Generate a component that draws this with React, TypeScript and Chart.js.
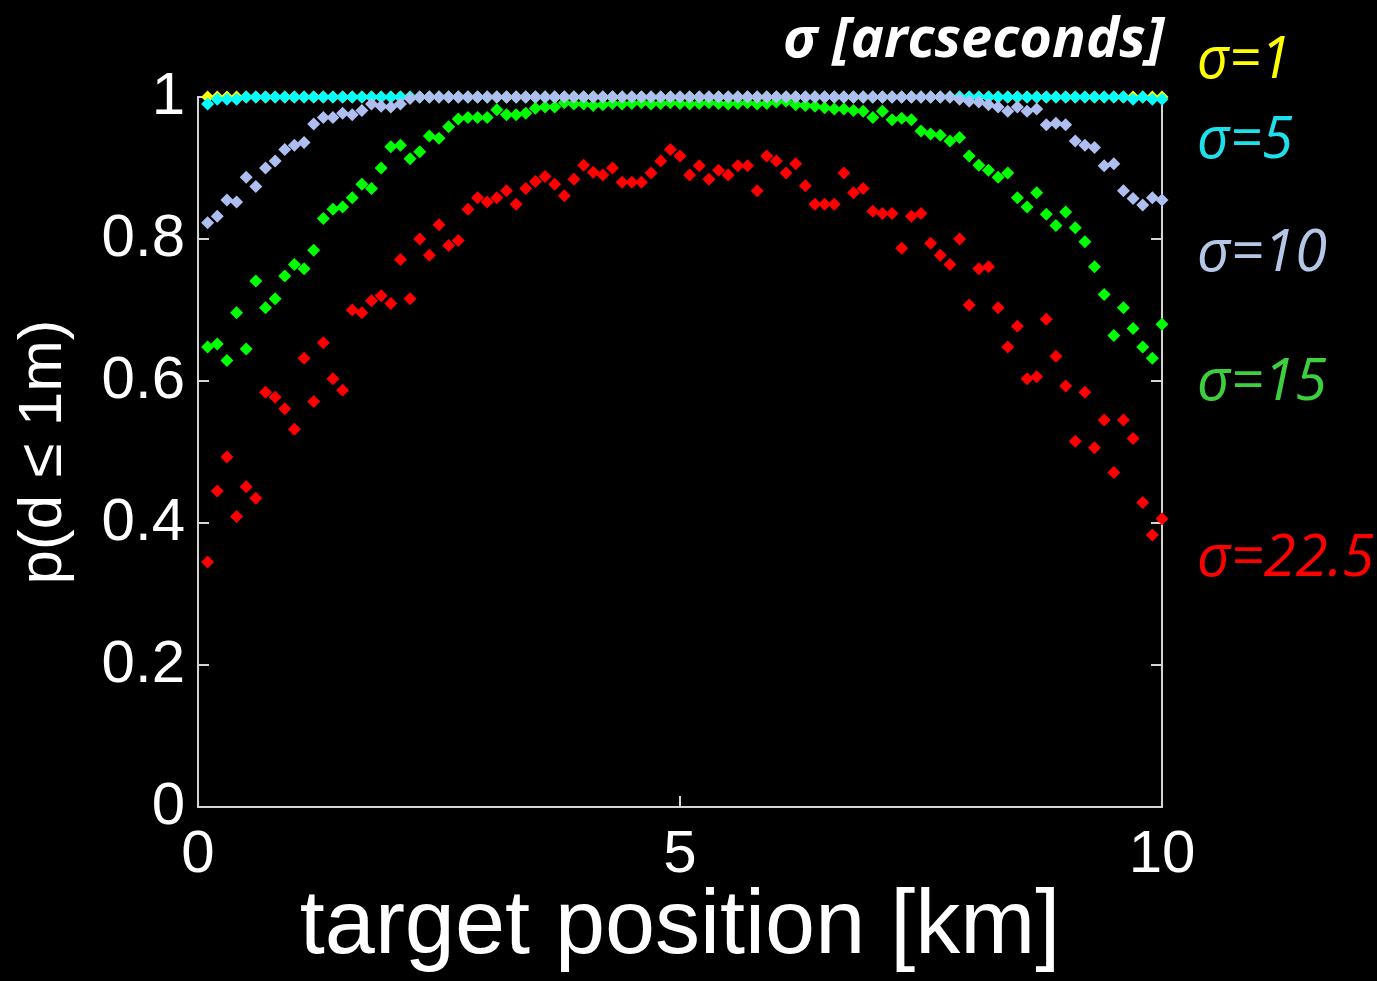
import React, { useEffect, useRef } from "react";
import { Chart, registerables } from "chart.js";

Chart.register(...registerables);

// target position [km] (sample grid)
const targetKm = [
  0.1, 0.2, 0.3, 0.4, 0.5, 0.6, 0.7, 0.8, 0.9, 1.0,
  1.1, 1.2, 1.3, 1.4, 1.5, 1.6, 1.7, 1.8, 1.9, 2.0,
  2.1, 2.2, 2.3, 2.4, 2.5, 2.6, 2.7, 2.8, 2.9, 3.0,
  3.1, 3.2, 3.3, 3.4, 3.5, 3.6, 3.7, 3.8, 3.9, 4.0,
  4.1, 4.2, 4.3, 4.4, 4.5, 4.6, 4.7, 4.8, 4.9, 5.0,
  5.1, 5.2, 5.3, 5.4, 5.5, 5.6, 5.7, 5.8, 5.9, 6.0,
  6.1, 6.2, 6.3, 6.4, 6.5, 6.6, 6.7, 6.8, 6.9, 7.0,
  7.1, 7.2, 7.3, 7.4, 7.5, 7.6, 7.7, 7.8, 7.9, 8.0,
  8.1, 8.2, 8.3, 8.4, 8.5, 8.6, 8.7, 8.8, 8.9, 9.0,
  9.1, 9.2, 9.3, 9.4, 9.5, 9.6, 9.7, 9.8, 9.9, 10.0,
];

// p(d <= 1m) for sigma = 1 arcsecond
const pSigma1 = [
  1, 1, 1, 1, 1, 1, 1, 1, 1, 1,
  1, 1, 1, 1, 1, 1, 1, 1, 1, 1,
  1, 1, 1, 1, 1, 1, 1, 1, 1, 1,
  1, 1, 1, 1, 1, 1, 1, 1, 1, 1,
  1, 1, 1, 1, 1, 1, 1, 1, 1, 1,
  1, 1, 1, 1, 1, 1, 1, 1, 1, 1,
  1, 1, 1, 1, 1, 1, 1, 1, 1, 1,
  1, 1, 1, 1, 1, 1, 1, 1, 1, 1,
  1, 1, 1, 1, 1, 1, 1, 1, 1, 1,
  1, 1, 1, 1, 1, 1, 1, 1, 1, 1,
];

// sigma = 5
const pSigma5 = [
  0.990, 0.997, 0.997, 0.997, 1, 1, 1, 1, 1, 1,
  1, 1, 1, 1, 1, 1, 1, 1, 1, 1,
  1, 1, 1, 1, 1, 1, 1, 1, 1, 1,
  1, 1, 1, 1, 1, 1, 1, 1, 1, 1,
  1, 1, 1, 1, 1, 1, 1, 1, 1, 1,
  1, 1, 1, 1, 1, 1, 1, 1, 1, 1,
  1, 1, 1, 1, 1, 1, 1, 1, 1, 1,
  1, 1, 1, 1, 1, 1, 1, 1, 1, 1,
  1, 1, 1, 1, 1, 1, 1, 1, 1, 1,
  1, 1, 1, 1, 1, 1, 0.997, 1, 0.997, 0.997,
];

// sigma = 10
const pSigma10 = [
  0.823, 0.832, 0.855, 0.852, 0.887, 0.874, 0.900, 0.910, 0.926, 0.932,
  0.936, 0.962, 0.971, 0.971, 0.977, 0.975, 0.981, 0.990, 0.987, 0.986,
  0.990, 0.998, 1, 1, 1, 1, 1, 1, 1, 1,
  1, 1, 1, 1, 1, 1, 1, 1, 1, 1,
  1, 1, 1, 1, 1, 1, 1, 1, 1, 1,
  1, 1, 1, 1, 1, 1, 1, 1, 1, 1,
  1, 1, 1, 1, 1, 1, 1, 1, 1, 1,
  1, 1, 1, 1, 1, 1, 1, 1, 0.997, 0.994,
  0.993, 0.989, 0.986, 0.980, 0.986, 0.980, 0.983, 0.961, 0.963, 0.961,
  0.938, 0.932, 0.929, 0.903, 0.906, 0.868, 0.857, 0.848, 0.858, 0.855,
];

// sigma = 15
const pSigma15 = [
  0.648, 0.652, 0.629, 0.696, 0.645, 0.741, 0.703, 0.716, 0.748, 0.764,
  0.758, 0.784, 0.829, 0.842, 0.845, 0.858, 0.877, 0.871, 0.900, 0.930,
  0.932, 0.913, 0.923, 0.945, 0.942, 0.958, 0.969, 0.971, 0.971, 0.971,
  0.982, 0.975, 0.975, 0.977, 0.984, 0.986, 0.986, 0.992, 0.990, 0.990,
  0.988, 0.989, 0.991, 0.990, 0.991, 0.992, 0.990, 0.991, 0.992, 0.991,
  0.990, 0.991, 0.992, 0.991, 0.990, 0.991, 0.992, 0.990, 0.991, 0.993,
  0.994, 0.989, 0.988, 0.987, 0.985, 0.983, 0.983, 0.981, 0.980, 0.971,
  0.980, 0.968, 0.970, 0.968, 0.952, 0.948, 0.946, 0.938, 0.943, 0.917,
  0.904, 0.897, 0.887, 0.893, 0.858, 0.845, 0.865, 0.835, 0.819, 0.838,
  0.816, 0.796, 0.761, 0.722, 0.664, 0.703, 0.674, 0.648, 0.632, 0.680,
];

// sigma = 22.5
const pSigma22 = [
  0.345, 0.445, 0.493, 0.409, 0.451, 0.435, 0.584, 0.577, 0.561, 0.532,
  0.632, 0.571, 0.654, 0.603, 0.587, 0.700, 0.696, 0.713, 0.720, 0.709,
  0.771, 0.716, 0.800, 0.777, 0.820, 0.791, 0.798, 0.842, 0.858, 0.852,
  0.858, 0.868, 0.849, 0.871, 0.881, 0.888, 0.877, 0.861, 0.884, 0.904,
  0.894, 0.890, 0.900, 0.880, 0.880, 0.880, 0.893, 0.910, 0.926, 0.917,
  0.890, 0.903, 0.884, 0.897, 0.890, 0.903, 0.903, 0.868, 0.917, 0.910,
  0.893, 0.906, 0.875, 0.849, 0.849, 0.849, 0.893, 0.865, 0.871, 0.839,
  0.836, 0.836, 0.787, 0.832, 0.836, 0.794, 0.777, 0.764, 0.800, 0.707,
  0.758, 0.761, 0.703, 0.648, 0.677, 0.603, 0.606, 0.687, 0.635, 0.593,
  0.515, 0.584, 0.506, 0.545, 0.471, 0.545, 0.519, 0.429, 0.383, 0.406,
];

const seriesLabels = ["σ=1", "σ=5", "σ=10", "σ=15", "σ=22.5"];
const markerColors = ["#ffff00", "#00ffff", "#aebef0", "#00ff00", "#ff0000"];
const labelColors = ["#ffff00", "#1ee0ea", "#b4c7e7", "#3ecf3e", "#ff0000"];
const yTickValues = [0, 0.2, 0.4, 0.6, 0.8, 1];
const xTickValues = [0, 5, 10];
const legendTitle = "σ [arcseconds]";
const xTitle = "target position [km]";
const yTitle = "p(d ≤ 1m)";

const seriesValues = [pSigma1, pSigma5, pSigma10, pSigma15, pSigma22];
// drawing order: lower = on top
const drawOrder = [5, 4, 2, 3, 1];

const AXIS_FONT = '"Liberation Sans", Arial, sans-serif';
const LABEL_FONT = '"Open Sans", "Noto Sans", sans-serif';

const framePlugin = {
  id: "frame",
  beforeDatasetsDraw(chart: any) {
    const { ctx, chartArea: a, scales } = chart;
    const xs = scales.x;
    const ys = scales.y;
    ctx.save();
    ctx.strokeStyle = "#d4d4d4";
    ctx.lineWidth = 2;
    ctx.strokeRect(a.left, a.top, a.right - a.left, a.bottom - a.top);
    const L = 11;
    ctx.beginPath();
    for (const v of yTickValues) {
      const py = ys.getPixelForValue(v);
      ctx.moveTo(a.left, py);
      ctx.lineTo(a.left + L, py);
      ctx.moveTo(a.right, py);
      ctx.lineTo(a.right - L, py);
    }
    for (const v of xTickValues) {
      const px = xs.getPixelForValue(v);
      ctx.moveTo(px, a.bottom);
      ctx.lineTo(px, a.bottom - L);
      ctx.moveTo(px, a.top);
      ctx.lineTo(px, a.top + L);
    }
    ctx.stroke();
    ctx.restore();
  },
};

const annotPlugin = {
  id: "annot",
  afterDraw(chart: any) {
    const { ctx, chartArea: a } = chart;
    ctx.save();
    ctx.textAlign = "left";
    ctx.textBaseline = "alphabetic";
    ctx.fillStyle = "#ffffff";
    ctx.font = `italic bold 56px ${LABEL_FONT}`;
    ctx.fillText(legendTitle, 783, 57, 384);
    const baselines = [78, 158, 271, 400, 576];
    const maxW = [94, 96, 130, 130, 178];
    ctx.font = `italic 58px ${LABEL_FONT}`;
    seriesLabels.forEach((t, i) => {
      ctx.fillStyle = labelColors[i];
      ctx.fillText(t, a.right + 35, baselines[i], maxW[i]);
    });
    ctx.restore();
  },
};

export default function App() {
  const canvasRef = useRef<HTMLCanvasElement | null>(null);

  useEffect(() => {
    document.body.style.margin = "0";
    document.body.style.background = "#000";
    const canvas = canvasRef.current;
    if (!canvas) return;
    const datasets = seriesValues.map((vals, si) => ({
      label: seriesLabels[si],
      data: targetKm.map((x, i) => ({ x, y: vals[i] })),
      pointStyle: "rectRot",
      pointRadius: 6.5,
      pointHoverRadius: 6.5,
      borderWidth: 0,
      backgroundColor: markerColors[si],
      borderColor: markerColors[si],
      showLine: false,
      clip: false,
      order: drawOrder[si],
    }));

    const chart = new Chart(canvas, {
      type: "scatter",
      data: { datasets } as any,
      options: {
        animation: false,
        responsive: false,
        maintainAspectRatio: false,
        devicePixelRatio: 1,
        layout: { padding: { top: 97, right: 215, left: 0, bottom: 0 } },
        plugins: { legend: { display: false }, tooltip: { enabled: false } },
        scales: {
          x: {
            type: "linear",
            min: 0,
            max: 10,
            grid: { display: false, drawTicks: false },
            border: { display: false },
            ticks: {
              stepSize: 5,
              color: "#ffffff",
              padding: 18,
              maxRotation: 0,
              font: { family: AXIS_FONT, size: 60, lineHeight: 1 },
              callback: (v: any) => String(v),
            },
            title: {
              display: true,
              text: xTitle,
              color: "#ffffff",
              font: { family: AXIS_FONT, size: 90, lineHeight: 1 },
              padding: { top: 0, bottom: 8 },
            },
            afterFit(s: any) {
              s.height = 174;
            },
          },
          y: {
            type: "linear",
            min: 0,
            max: 1,
            grid: { display: false, drawTicks: false },
            border: { display: false },
            ticks: {
              stepSize: 0.2,
              color: "#ffffff",
              padding: 13,
              font: { family: AXIS_FONT, size: 60, lineHeight: 1 },
              callback: (v: any) => String(Math.round(Number(v) * 10) / 10),
            },
            title: {
              display: true,
              text: yTitle,
              color: "#ffffff",
              font: { family: AXIS_FONT, size: 62, lineHeight: 1 },
              padding: { top: 13, bottom: 0 },
            },
            afterFit(s: any) {
              s.width = 198;
            },
          },
        },
      } as any,
      plugins: [framePlugin, annotPlugin],
    });
    return () => chart.destroy();
  }, []);

  return (
    <div
      style={{
        position: "absolute",
        left: 0,
        top: 0,
        width: 1377,
        height: 981,
        background: "#000",
      }}
    >
      <canvas ref={canvasRef} width={1377} height={981} style={{ display: "block" }} />
    </div>
  );
}
